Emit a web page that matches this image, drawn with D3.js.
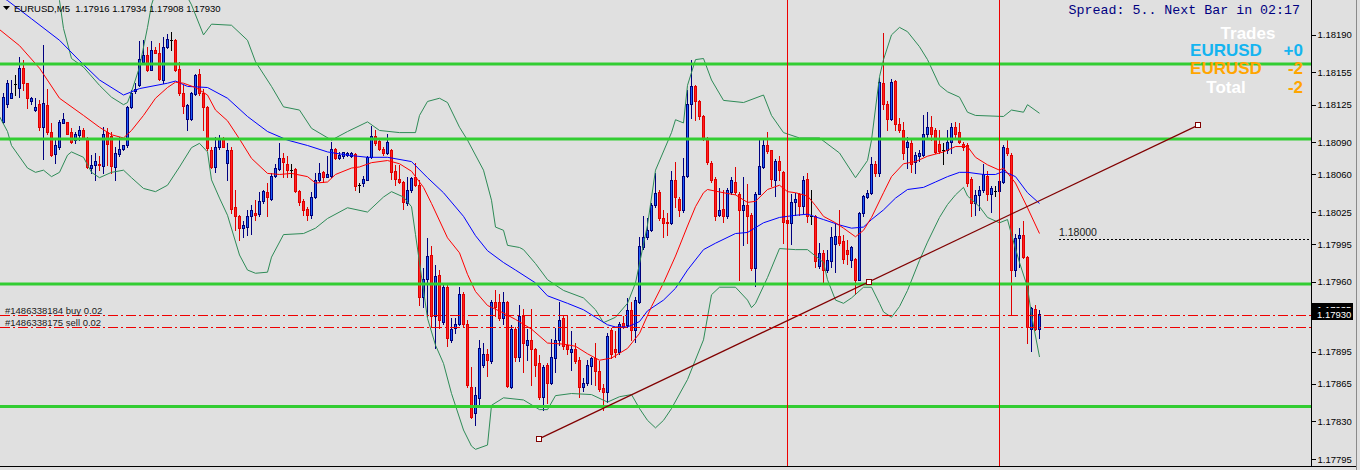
<!DOCTYPE html>
<html><head><meta charset="utf-8">
<script src="https://cdn.jsdelivr.net/npm/d3@7"></script>
<style>html,body{margin:0;padding:0;background:#e0e0e0;overflow:hidden}</style>
</head><body><svg id="c" width="1360" height="470"></svg>
<script>
// ---- data (EURUSD M5, bar index 0..259) ----
const symbol = "EURUSD,M5";
const opens = [1.18109,1.18126,1.18131,1.18144,1.18141,1.18159,1.18145,1.18128,1.18120,1.18126,
1.18104,1.18125,1.18100,1.18079,1.18086,1.18108,1.18109,1.18100,1.18092,1.18097,
1.18101,1.18094,1.18066,1.18069,1.18070,1.18068,1.18100,1.18096,1.18067,1.18079,
1.18084,1.18087,1.18123,1.18138,1.18143,1.18165,1.18171,1.18157,1.18176,1.18173,
1.18148,1.18179,1.18185,1.18185,1.18158,1.18136,1.18112,1.18112,1.18135,1.18154,
1.18136,1.18123,1.18083,1.18067,1.18086,1.18094,1.18071,1.18083,1.18030,1.18021,
1.18010,1.18011,1.18021,1.18024,1.18023,1.18035,1.18044,1.18037,1.18059,1.18065,
1.18075,1.18070,1.18064,1.18065,1.18045,1.18035,1.18028,1.18022,1.18039,1.18055,
1.18062,1.18058,1.18059,1.18084,1.18075,1.18077,1.18078,1.18077,1.18079,1.18050,
1.18052,1.18055,1.18076,1.18096,1.18091,1.18084,1.18080,1.18083,1.18063,1.18056,
1.18053,1.18033,1.18046,1.18058,1.18050,1.17946,1.17963,1.17985,1.17928,1.17966,
1.17923,1.17955,1.17906,1.17917,1.17921,1.17949,1.17921,1.17862,1.17838,1.17852,
1.17883,1.17893,1.17886,1.17941,1.17941,1.17926,1.17941,1.17862,1.17916,1.17890,
1.17928,1.17901,1.17906,1.17897,1.17884,1.17853,1.17883,1.17866,1.17889,1.17906,
1.17926,1.17901,1.17895,1.17897,1.17887,1.17862,1.17866,1.17882,1.17889,1.17877,
1.17861,1.17857,1.17915,1.17897,1.17895,1.17922,1.17920,1.17934,1.17915,1.17941,
1.17992,1.18002,1.18008,1.18032,1.18044,1.18019,1.18016,1.18015,1.18055,1.18037,
1.18027,1.18059,1.18126,1.18142,1.18128,1.18114,1.18094,1.18071,1.18056,1.18022,
1.18028,1.18021,1.18044,1.18053,1.18042,1.18027,1.18032,1.18022,1.17973,1.18042,
1.18067,1.18087,1.18083,1.18055,1.18073,1.18062,1.18018,1.18015,1.18034,1.18042,
1.18031,1.18056,1.18021,1.18021,1.17975,1.17987,1.17971,1.17979,1.17995,1.18003,
1.17998,1.17990,1.17980,1.17981,1.17962,1.18024,1.18039,1.18043,1.18070,1.18061,
1.18145,1.18126,1.18112,1.18147,1.18107,1.18101,1.18086,1.18089,1.18072,1.18077,
1.18078,1.18098,1.18104,1.18101,1.18088,1.18083,1.18083,1.18090,1.18104,1.18100,
1.18088,1.18087,1.18056,1.18033,1.18041,1.18046,1.18059,1.18042,1.18045,1.18045,
1.18053,1.18085,1.18078,1.17971,1.18001,1.18004,1.17983,1.17916,1.17935,1.17916];
const highs = [1.18136,1.18148,1.18148,1.18153,1.18169,1.18167,1.18145,1.18132,1.18131,1.18129,
1.18181,1.18140,1.18108,1.18092,1.18111,1.18117,1.18109,1.18103,1.18100,1.18105,
1.18103,1.18095,1.18078,1.18080,1.18077,1.18104,1.18103,1.18100,1.18086,1.18095,
1.18087,1.18124,1.18139,1.18145,1.18184,1.18185,1.18179,1.18184,1.18179,1.18182,
1.18188,1.18191,1.18193,1.18186,1.18165,1.18143,1.18126,1.18137,1.18154,1.18158,
1.18140,1.18124,1.18086,1.18095,1.18097,1.18095,1.18089,1.18086,1.18046,1.18022,
1.18017,1.18027,1.18032,1.18036,1.18044,1.18046,1.18052,1.18061,1.18070,1.18089,
1.18080,1.18077,1.18070,1.18066,1.18046,1.18037,1.18030,1.18044,1.18061,1.18071,
1.18063,1.18077,1.18090,1.18085,1.18081,1.18081,1.18081,1.18081,1.18080,1.18052,
1.18059,1.18077,1.18105,1.18101,1.18094,1.18086,1.18098,1.18084,1.18069,1.18069,
1.18054,1.18058,1.18058,1.18071,1.18055,1.17973,1.18001,1.17993,1.17976,1.17971,
1.17957,1.17959,1.17926,1.17926,1.17955,1.17951,1.17924,1.17881,1.17862,1.17906,
1.17903,1.17897,1.17943,1.17952,1.17949,1.17951,1.17942,1.17920,1.17918,1.17938,
1.17935,1.17916,1.17935,1.17898,1.17892,1.17883,1.17884,1.17907,1.17917,1.17941,
1.17928,1.17928,1.17914,1.17903,1.17890,1.17870,1.17887,1.17890,1.17903,1.17886,
1.17865,1.17912,1.17917,1.17914,1.17923,1.17928,1.17945,1.17941,1.17946,1.18002,
1.18021,1.18019,1.18033,1.18061,1.18046,1.18027,1.18024,1.18063,1.18072,1.18039,
1.18075,1.18139,1.18167,1.18143,1.18129,1.18115,1.18095,1.18073,1.18058,1.18047,
1.18046,1.18047,1.18058,1.18067,1.18044,1.18058,1.18051,1.18024,1.18044,1.18094,
1.18092,1.18100,1.18083,1.18074,1.18077,1.18063,1.18019,1.18042,1.18043,1.18043,
1.18059,1.18061,1.18046,1.18022,1.17996,1.17990,1.17990,1.18011,1.18014,1.18027,
1.18004,1.17999,1.17993,1.17982,1.18025,1.18041,1.18046,1.18076,1.18073,1.18150,
1.18192,1.18128,1.18149,1.18148,1.18113,1.18109,1.18095,1.18092,1.18081,1.18083,
1.18115,1.18118,1.18114,1.18103,1.18101,1.18089,1.18101,1.18108,1.18109,1.18108,
1.18090,1.18089,1.18058,1.18046,1.18049,1.18070,1.18063,1.18049,1.18049,1.18061,
1.18087,1.18094,1.18080,1.18005,1.18010,1.18017,1.17984,1.17937,1.17938,1.17934];
const lows = [1.18108,1.18123,1.18131,1.18134,1.18132,1.18139,1.18122,1.18126,1.18119,1.18101,
1.18074,1.18098,1.18077,1.18071,1.18084,1.18108,1.18098,1.18089,1.18089,1.18092,
1.18093,1.18066,1.18061,1.18055,1.18064,1.18061,1.18069,1.18061,1.18055,1.18077,
1.18083,1.18086,1.18122,1.18136,1.18142,1.18164,1.18156,1.18157,1.18173,1.18148,
1.18145,1.18178,1.18176,1.18156,1.18134,1.18117,1.18101,1.18111,1.18134,1.18134,
1.18101,1.18083,1.18066,1.18062,1.18084,1.18086,1.18055,1.18024,1.18008,1.17999,
1.18002,1.18004,1.18005,1.18018,1.18021,1.18033,1.18021,1.18036,1.18058,1.18064,
1.18058,1.18058,1.18058,1.18044,1.18032,1.18022,1.18018,1.18019,1.18038,1.18054,
1.18053,1.18058,1.18058,1.18074,1.18074,1.18075,1.18077,1.18076,1.18046,1.18044,
1.18049,1.18055,1.18075,1.18087,1.18083,1.18078,1.18079,1.18056,1.18050,1.18052,
1.18028,1.18032,1.18044,1.18049,1.17938,1.17937,1.17928,1.17918,1.17898,1.17917,
1.17921,1.17900,1.17904,1.17912,1.17920,1.17918,1.17862,1.17833,1.17827,1.17844,
1.17881,1.17872,1.17884,1.17928,1.17924,1.17921,1.17862,1.17861,1.17886,1.17886,
1.17876,1.17887,1.17864,1.17872,1.17851,1.17841,1.17847,1.17865,1.17876,1.17901,
1.17897,1.17893,1.17878,1.17884,1.17853,1.17858,1.17864,1.17865,1.17864,1.17858,
1.17841,1.17848,1.17889,1.17890,1.17893,1.17917,1.17918,1.17906,1.17904,1.17940,
1.17991,1.18000,1.18007,1.18030,1.18018,1.18002,1.18004,1.18014,1.18030,1.18021,
1.18025,1.18058,1.18113,1.18111,1.18112,1.18092,1.18070,1.18053,1.18018,1.18021,
1.18016,1.18019,1.18042,1.18042,1.17962,1.17994,1.17996,1.17971,1.17956,1.18042,
1.18066,1.18080,1.18049,1.18040,1.18055,1.17996,1.18014,1.17995,1.18022,1.18022,
1.18024,1.18016,1.18014,1.17974,1.17973,1.17959,1.17969,1.17974,1.17969,1.17994,
1.17978,1.17977,1.17974,1.17949,1.17962,1.18021,1.18038,1.18042,1.18059,1.18059,
1.18121,1.18101,1.18111,1.18101,1.18100,1.18074,1.18066,1.18062,1.18061,1.18073,
1.18077,1.18095,1.18092,1.18080,1.18080,1.18070,1.18080,1.18080,1.18095,1.18089,
1.18083,1.18049,1.18021,1.18022,1.18027,1.18044,1.18036,1.18025,1.18040,1.18031,
1.18052,1.18078,1.17929,1.17965,1.17974,1.17982,1.17903,1.17896,1.17915,1.17908];
const closes = [1.18132,1.18145,1.18136,1.18144,1.18159,1.18145,1.18131,1.18131,1.18123,1.18104,
1.18127,1.18100,1.18078,1.18087,1.18109,1.18112,1.18098,1.18090,1.18098,1.18101,
1.18094,1.18067,1.18069,1.18073,1.18069,1.18098,1.18088,1.18068,1.18080,1.18084,
1.18087,1.18123,1.18136,1.18140,1.18168,1.18171,1.18157,1.18176,1.18173,1.18149,
1.18179,1.18186,1.18185,1.18157,1.18136,1.18124,1.18125,1.18136,1.18153,1.18136,
1.18123,1.18085,1.18067,1.18086,1.18094,1.18086,1.18083,1.18028,1.18021,1.18010,
1.18013,1.18021,1.18027,1.18022,1.18035,1.18045,1.18039,1.18059,1.18066,1.18075,
1.18072,1.18064,1.18064,1.18045,1.18034,1.18027,1.18022,1.18039,1.18055,1.18061,
1.18058,1.18060,1.18084,1.18075,1.18078,1.18081,1.18080,1.18080,1.18049,1.18050,
1.18056,1.18076,1.18096,1.18089,1.18084,1.18080,1.18090,1.18062,1.18056,1.18053,
1.18034,1.18046,1.18057,1.18050,1.17946,1.17963,1.17984,1.17928,1.17965,1.17924,
1.17955,1.17908,1.17916,1.17921,1.17949,1.17921,1.17864,1.17834,1.17855,1.17898,
1.17893,1.17887,1.17941,1.17937,1.17926,1.17941,1.17863,1.17916,1.17890,1.17928,
1.17903,1.17906,1.17897,1.17883,1.17853,1.17881,1.17866,1.17890,1.17906,1.17924,
1.17900,1.17897,1.17897,1.17886,1.17862,1.17866,1.17883,1.17889,1.17877,1.17860,
1.17857,1.17910,1.17893,1.17895,1.17921,1.17918,1.17934,1.17915,1.17943,1.17993,
1.18002,1.18008,1.18032,1.18043,1.18019,1.18015,1.18015,1.18055,1.18039,1.18027,
1.18059,1.18126,1.18142,1.18128,1.18114,1.18093,1.18072,1.18055,1.18021,1.18027,
1.18021,1.18046,1.18055,1.18044,1.18027,1.18032,1.18021,1.17973,1.18042,1.18068,
1.18087,1.18082,1.18056,1.18073,1.18064,1.18016,1.18015,1.18034,1.18037,1.18031,
1.18055,1.18021,1.18021,1.17979,1.17987,1.17971,1.17980,1.18002,1.18003,1.17996,
1.17981,1.17986,1.17992,1.17962,1.18024,1.18040,1.18043,1.18070,1.18061,1.18146,
1.18126,1.18112,1.18146,1.18107,1.18101,1.18080,1.18090,1.18070,1.18078,1.18080,
1.18098,1.18104,1.18098,1.18081,1.18082,1.18083,1.18090,1.18104,1.18098,1.18090,
1.18086,1.18052,1.18033,1.18041,1.18046,1.18060,1.18042,1.18047,1.18045,1.18054,
1.18086,1.18080,1.17971,1.18001,1.18004,1.17983,1.17918,1.17936,1.17916,1.17930];

// indicator lines, sampled at bar indices
const redMaBars = [-1,4,9,14,20,24,27,30,32,35,38,41,43,45,48,51,53,56,59,62,66,69,72,76,78,81,83,87,89,92,96,99,102,105,107,111,114,116,118,121,125,128,132,136,140,143,146,149,152,156,159,162,165,168,171,173,175,176,180,183,186,188,191,194,196,198,201,203,205,208,210,213,215,217,220,222,225,228,231,235,238,241,243,246,249,250,253,256,259];
const redMaValues = [1.18195,1.18180,1.18159,1.18131,1.18115,1.18104,1.18097,1.18094,1.18101,1.18115,1.18131,1.18141,1.18146,1.18145,1.18141,1.18134,1.18120,1.18110,1.18093,1.18075,1.18061,1.18060,1.18061,1.18058,1.18052,1.18053,1.18060,1.18066,1.18067,1.18071,1.18073,1.18070,1.18063,1.18048,1.18033,1.18001,1.17987,1.17967,1.17951,1.17938,1.17931,1.17925,1.17916,1.17903,1.17902,1.17900,1.17893,1.17887,1.17889,1.17898,1.17912,1.17937,1.17959,1.17984,1.18012,1.18030,1.18043,1.18046,1.18043,1.18041,1.18034,1.18035,1.18046,1.18050,1.18044,1.18043,1.18040,1.18031,1.18021,1.18015,1.18010,1.18002,1.18008,1.18020,1.18043,1.18058,1.18070,1.18072,1.18077,1.18081,1.18086,1.18086,1.18076,1.18069,1.18064,1.18066,1.18052,1.18029,1.18005];
const blueMaBars = [-1,1,7,14,19,24,30,34,41,43,46,51,56,61,66,71,76,81,86,91,96,102,106,110,115,118,121,125,128,133,136,141,145,148,151,153,156,159,161,165,168,171,175,178,183,186,190,194,198,201,205,209,212,215,217,220,223,226,230,233,236,239,241,245,248,250,253,256,259];
const blueMaValues = [1.18227,1.18222,1.18205,1.18185,1.18166,1.18148,1.18134,1.18140,1.18145,1.18147,1.18142,1.18141,1.18131,1.18114,1.18100,1.18092,1.18087,1.18081,1.18078,1.18076,1.18076,1.18072,1.18057,1.18043,1.18021,1.18003,1.17989,1.17978,1.17971,1.17959,1.17947,1.17940,1.17934,1.17927,1.17920,1.17918,1.17918,1.17923,1.17933,1.17943,1.17954,1.17971,1.17990,1.17996,1.18005,1.18006,1.18015,1.18020,1.18022,1.18023,1.18018,1.18013,1.18010,1.18011,1.18018,1.18027,1.18038,1.18046,1.18048,1.18053,1.18058,1.18062,1.18062,1.18060,1.18060,1.18063,1.18058,1.18043,1.18033];
const bandUpperBars = [-1,9,14,15,17,20,24,27,30,31,32,34,36,37,39,43,45,47,50,52,57,61,63,67,70,74,77,82,86,91,94,99,103,104,106,109,111,114,116,120,122,123,125,126,129,130,133,136,140,145,148,150,153,156,158,161,163,167,168,170,171,173,175,177,180,185,190,192,195,199,204,209,213,216,217,219,220,222,224,226,229,231,234,236,239,241,243,250,252,255,256,259];
const bandUpperValues = [1.18278,1.18246,1.18222,1.18196,1.18168,1.18160,1.18143,1.18132,1.18125,1.18127,1.18137,1.18160,1.18197,1.18218,1.18241,1.18250,1.18232,1.18218,1.18190,1.18200,1.18199,1.18185,1.18165,1.18142,1.18123,1.18120,1.18103,1.18092,1.18100,1.18109,1.18101,1.18099,1.18099,1.18115,1.18128,1.18131,1.18127,1.18104,1.18092,1.18064,1.18036,1.18011,1.18008,1.17994,1.17992,1.17990,1.17977,1.17962,1.17952,1.17945,1.17934,1.17922,1.17927,1.17940,1.17959,1.18013,1.18064,1.18099,1.18111,1.18108,1.18143,1.18167,1.18168,1.18148,1.18129,1.18127,1.18134,1.18115,1.18099,1.18094,1.18094,1.18080,1.18057,1.18073,1.18092,1.18151,1.18167,1.18190,1.18197,1.18193,1.18179,1.18167,1.18143,1.18137,1.18132,1.18118,1.18115,1.18114,1.18120,1.18118,1.18125,1.18117];
const bandLowerBars = [-1,1,2,6,8,10,12,14,16,17,20,22,24,27,30,32,35,38,41,44,47,49,51,52,54,56,59,61,63,66,67,70,75,78,81,86,91,95,97,100,102,103,104,106,108,110,112,115,117,118,121,122,125,130,134,136,138,142,147,151,154,157,159,161,163,165,167,171,175,177,179,183,186,187,188,191,194,198,201,205,206,208,210,212,215,217,219,220,222,224,226,229,231,234,236,238,240,241,244,246,249,251,252,254,256,257,259];
const bandLowerValues = [1.18114,1.18100,1.18087,1.18066,1.18062,1.18064,1.18058,1.18062,1.18078,1.18081,1.18076,1.18062,1.18057,1.18062,1.18064,1.18057,1.18047,1.18044,1.18050,1.18067,1.18085,1.18089,1.18081,1.18055,1.18038,1.18022,1.17985,1.17971,1.17968,1.17969,1.17983,1.18004,1.18005,1.18010,1.18019,1.18029,1.18025,1.18039,1.18044,1.18039,1.18030,1.18004,1.17978,1.17926,1.17901,1.17884,1.17856,1.17822,1.17807,1.17804,1.17808,1.17845,1.17852,1.17850,1.17841,1.17841,1.17854,1.17856,1.17855,1.17848,1.17853,1.17855,1.17842,1.17831,1.17824,1.17831,1.17842,1.17869,1.17906,1.17948,1.17955,1.17955,1.17943,1.17936,1.17940,1.17964,1.17991,1.17990,1.17990,1.17978,1.17962,1.17943,1.17940,1.17945,1.17955,1.17955,1.17940,1.17932,1.17927,1.17937,1.17952,1.17980,1.17997,1.18020,1.18032,1.18041,1.18048,1.18040,1.18030,1.18020,1.18015,1.18018,1.18004,1.17978,1.17955,1.17929,1.17890];

// chart objects
const levelPrices = [1.18163, 1.18093, 1.17958, 1.17844];
const verticalBars = [196, 249];
const trendBars = [134, 298.7];
const trendPrices = [1.17814, 1.18106];
const orderLabels = ["#1486338184 buy 0.02", "#1486338175 sell 0.02"];
const orderPrices = [1.17929, 1.17918];
const markLabel = "1.18000";
const markPrice = 1.18000;
const axisTicks = [1.18190,1.18155,1.18125,1.18090,1.18060,1.18025,1.17995,1.17960,1.17930,1.17895,1.17865,1.17830,1.17795];
const priceTags = [1.17935, 1.17930];
const headerValues = ["1.17916","1.17934","1.17908","1.17930"];
const spreadText = "Spread: 5.. Next Bar in 02:17";
const tradeRows = [
  {label:"EURUSD", value:"+0", lc:"#14b4f0", vc:"#14b4f0"},
  {label:"EURUSD", value:"-2", lc:"#ffa500", vc:"#ffa500"},
  {label:"Total",  value:"-2", lc:"#ffffff", vc:"#ffa500"}];

// ---- drawing ----
const W = 1360, H = 470, axisX = 1311.5, bottomY = 466;
const x = d3.scaleLinear().domain([0, 259]).range([3.5, 1039.5]);
const y = d3.scaleLinear().domain([1.17795, 1.18190]).range([459, 34.9]);
const svg = d3.select('#c');
svg.append('rect').attr('width', W).attr('height', H).attr('fill', '#e0e0e0');
const defs = svg.append('defs');
defs.append('clipPath').attr('id', 'plot')
  .append('rect').attr('x', 0).attr('y', 0).attr('width', 1311).attr('height', bottomY);

const g = svg.append('g').attr('clip-path', 'url(#plot)');

const bars = d3.range(opens.length).map(i => ({i, o: opens[i], h: highs[i], l: lows[i], c: closes[i]}));
const crisp = v => Math.round(v) + 0.5;
const cg = g.append('g').attr('shape-rendering', 'crispEdges');
bars.forEach(b => {
  const cx = x(b.i);
  const bull = b.c > b.o, doji = b.c === b.o;
  const wc = doji ? '#000000' : (bull ? '#000080' : '#e00000');
  cg.append('line').attr('x1', cx).attr('x2', cx).attr('y1', crisp(y(b.h)) - 0.5).attr('y2', crisp(y(b.l)) + 0.5)
    .attr('stroke', wc).attr('stroke-width', 1);
  if (doji) {
    cg.append('line').attr('x1', cx - 1.5).attr('x2', cx + 1.5).attr('y1', crisp(y(b.o))).attr('y2', crisp(y(b.o)))
      .attr('stroke', '#000').attr('stroke-width', 1);
  } else {
    const t = crisp(y(Math.max(b.o, b.c))), bt = crisp(y(Math.min(b.o, b.c)));
    cg.append('rect').attr('x', cx - 1).attr('width', 2).attr('y', t).attr('height', Math.max(bt - t, 0.01))
      .attr('fill', bull ? '#1a5cff' : '#ff2020').attr('stroke', bull ? '#00007a' : '#e00000').attr('stroke-width', 1);
  }
});

const line = d3.line().x(d => x(d[0])).y(d => y(d[1]));
[[bandUpperBars, bandUpperValues, '#2e8b57'], [bandLowerBars, bandLowerValues, '#2e8b57'],
 [blueMaBars, blueMaValues, '#0000ff'], [redMaBars, redMaValues, '#ff0000']].forEach(([b, v, col]) => {
  g.append('path').datum(d3.zip(b, v)).attr('d', line).attr('fill', 'none').attr('stroke', col).attr('stroke-width', 1);
});

// horizontal levels
g.selectAll('.lvl').data(levelPrices).enter().append('line')
  .attr('x1', 0).attr('x2', 1311).attr('y1', d => y(d)).attr('y2', d => y(d))
  .attr('stroke', '#32cd32').attr('stroke-width', 3);

// vertical separators
g.selectAll('.vl').data(verticalBars).enter().append('line')
  .attr('x1', d => x(d)).attr('x2', d => x(d)).attr('y1', 0).attr('y2', bottomY)
  .attr('stroke', '#ee0000').attr('stroke-width', 1).attr('shape-rendering', 'crispEdges');

// trend line
const tp = trendBars.map((b, i) => [x(b), y(trendPrices[i])]);
g.append('line').attr('x1', tp[0][0]).attr('y1', tp[0][1]).attr('x2', tp[1][0]).attr('y2', tp[1][1])
  .attr('stroke', '#800000').attr('stroke-width', 1.2);
const mid = [(tp[0][0] + tp[1][0]) / 2, (tp[0][1] + tp[1][1]) / 2];
[tp[0], mid, tp[1]].forEach(p => {
  g.append('rect').attr('x', Math.round(p[0]) - 2.5).attr('y', Math.round(p[1]) - 2.5).attr('width', 5).attr('height', 5)
    .attr('fill', '#ffffff').attr('stroke', '#800000').attr('stroke-width', 1);
});

// order lines
orderPrices.forEach((p, i) => {
  const yy = crisp(y(p));
  g.append('line').attr('x1', 0).attr('x2', 1311).attr('y1', yy).attr('y2', yy)
    .attr('stroke', '#ee0000').attr('stroke-width', 1).attr('stroke-dasharray', '10,3,2,3').attr('shape-rendering', 'crispEdges');
  g.append('text').attr('x', 5).attr('y', yy - 2).text(orderLabels[i])
    .attr('font-family', 'Liberation Sans, Arial, sans-serif').attr('font-size', 9.5).attr('fill', '#1a1a1a');
});

// 1.18000 mark
const my = crisp(y(markPrice));
g.append('line').attr('x1', 1059).attr('x2', 1310).attr('y1', my).attr('y2', my)
  .attr('stroke', '#000').attr('stroke-width', 1).attr('stroke-dasharray', '2,2').attr('shape-rendering', 'crispEdges');
g.append('text').attr('x', 1059).attr('y', my - 4).text(markLabel)
  .attr('font-family', 'Liberation Sans, Arial, sans-serif').attr('font-size', 10.5).attr('fill', '#1a1a1a');

// price axis
const axis = d3.axisRight(y).tickValues(axisTicks).tickSize(4).tickPadding(2).tickFormat(d3.format('.5f'));
const ag = svg.append('g').attr('transform', `translate(${axisX},0)`).call(axis);
ag.select('.domain').remove();
ag.attr('font-family', 'Liberation Sans, Arial, sans-serif').attr('font-size', 9.5);
ag.selectAll('text').attr('fill', '#000');
ag.selectAll('line').attr('stroke', '#000').attr('shape-rendering', 'crispEdges');
svg.append('line').attr('x1', axisX).attr('x2', axisX).attr('y1', 0).attr('y2', bottomY)
  .attr('stroke', '#000').attr('stroke-width', 1).attr('shape-rendering', 'crispEdges');

// price tags (the later one is drawn over the earlier one, as in the terminal)
priceTags.forEach((p, i) => {
  const yy = Math.round(y(p));
  const tg = svg.append('g');
  tg.append('rect').attr('x', 1312).attr('y', yy - 6).attr('width', 41).attr('height', 12).attr('fill', '#000');
  tg.append('text').attr('x', 1317).attr('y', yy + 4).text(d3.format('.5f')(p))
    .attr('font-family', 'Liberation Sans, Arial, sans-serif').attr('font-size', 9.5).attr('fill', '#fff');
});

// frame
svg.append('line').attr('x1', 0).attr('x2', 1356).attr('y1', bottomY + 0.5).attr('y2', bottomY + 0.5)
  .attr('stroke', '#000').attr('shape-rendering', 'crispEdges');
svg.append('line').attr('x1', 1356.5).attr('x2', 1356.5).attr('y1', 0).attr('y2', H)
  .attr('stroke', '#8a8a8a').attr('shape-rendering', 'crispEdges');

// header
svg.append('path').attr('d', 'M3,6 L10,6 L6.5,10 Z').attr('fill', '#000');
svg.append('text').attr('x', 14).attr('y', 12)
  .attr('font-family', 'Liberation Sans, Arial, sans-serif').attr('font-size', 9.5).attr('fill', '#000')
  .attr('xml:space', 'preserve').text(symbol + '  ' + headerValues.join(' '));

svg.append('text').attr('x', 1300).attr('y', 14).attr('text-anchor', 'end')
  .attr('font-family', 'Liberation Mono, Courier New, monospace').attr('font-size', 13.3).attr('fill', '#000080')
  .text(spreadText);

const tf = 'Liberation Sans, Arial, sans-serif';
svg.append('text').attr('x', 1248).attr('y', 39).attr('text-anchor', 'middle').attr('font-family', tf)
  .attr('font-weight', 'bold').attr('font-size', 17).attr('fill', '#ffffff').text('Trades');
tradeRows.forEach((r, i) => {
  const by = 56 + i * 18.3;
  svg.append('text').attr('x', 1226).attr('y', by).attr('text-anchor', 'middle').attr('font-family', tf)
    .attr('font-weight', 'bold').attr('font-size', 17).attr('fill', r.lc).text(r.label);
  svg.append('text').attr('x', 1303).attr('y', by).attr('text-anchor', 'end').attr('font-family', tf)
    .attr('font-weight', 'bold').attr('font-size', 17).attr('fill', r.vc).text(r.value);
});
</script>
</body></html>
